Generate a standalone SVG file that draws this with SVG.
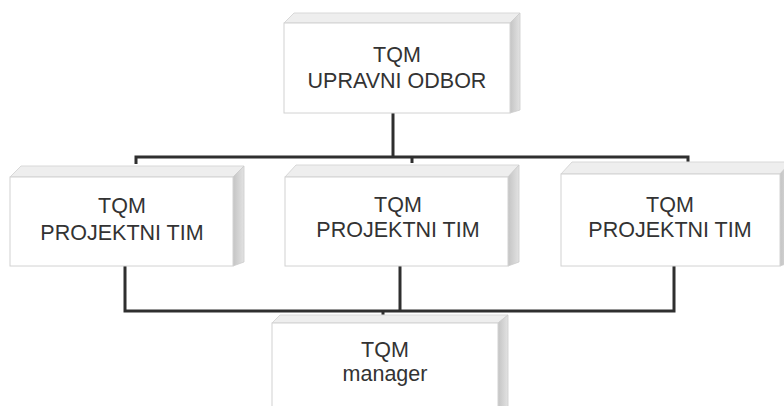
<svg xmlns="http://www.w3.org/2000/svg" width="784" height="406" viewBox="0 0 784 406">
<defs>
<linearGradient id="side" x1="0" y1="0" x2="1" y2="0">
<stop offset="0" stop-color="#c4c4c4"/>
<stop offset="1" stop-color="#e2e2e2"/>
</linearGradient>
<style>
.front{fill:#ffffff;stroke:#d2d2d2;stroke-width:1}
.top{fill:#eeeeee;stroke:#d8d8d8;stroke-width:1}
.side{fill:url(#side);stroke:#cccccc;stroke-width:0.8}
.lbl{font-family:"Liberation Sans",Arial,sans-serif;font-size:21.5px;fill:#333333;text-anchor:middle}
.conn{fill:none;stroke:#2f2f2f;stroke-width:3;stroke-linejoin:miter}
</style>
</defs>
<rect width="784" height="406" fill="#ffffff"/>
<g id="connectors">
<path class="conn" d="M393 113 V157"/>
<path class="conn" d="M136 164 V157 H688 V164"/>
<path class="conn" d="M412 157 V163"/>
<path class="conn" d="M125 266 V311 H674 V265"/>
<path class="conn" d="M400 265 V311"/>
<path class="conn" d="M383 311 V317"/>
</g>
<g id="upravni_odbor">
<polygon class="top" points="284,23 294,13 520,13 510,23"/>
<polygon class="side" points="510,23 520,13 520,110 510,113"/>
<rect class="front" x="284" y="23" width="226" height="90"/>
<text class="lbl" x="397" y="62">TQM</text>
<text class="lbl" x="397" y="88">UPRAVNI ODBOR</text>
</g>
<g id="tim_left">
<polygon class="top" points="10,177 21,166 244,166 233,177"/>
<polygon class="side" points="233,177 244,166 244,262 233,266"/>
<rect class="front" x="10" y="177" width="223" height="89"/>
<text class="lbl" x="122" y="213">TQM</text>
<text class="lbl" x="122" y="240">PROJEKTNI TIM</text>
</g>
<g id="tim_mid">
<polygon class="top" points="285,177 296,165 519,165 508,177"/>
<polygon class="side" points="508,177 519,165 519,262 508,266"/>
<rect class="front" x="285" y="177" width="223" height="89"/>
<text class="lbl" x="398" y="212">TQM</text>
<text class="lbl" x="398" y="237">PROJEKTNI TIM</text>
</g>
<g id="tim_right">
<polygon class="top" points="561,174 572,162 791,162 780,174"/>
<polygon class="side" points="780,174 791,162 791,262 780,266"/>
<rect class="front" x="561" y="174" width="219" height="92"/>
<text class="lbl" x="670" y="212">TQM</text>
<text class="lbl" x="670" y="237">PROJEKTNI TIM</text>
</g>
<g id="manager">
<polygon class="top" points="272,323 280,315 508,315 498,323"/>
<polygon class="side" points="498,323 508,315 508,410 498,410"/>
<rect class="front" x="272" y="323" width="226" height="90"/>
<text class="lbl" x="385" y="357">TQM</text>
<text class="lbl" x="385" y="381">manager</text>
</g>
</svg>
